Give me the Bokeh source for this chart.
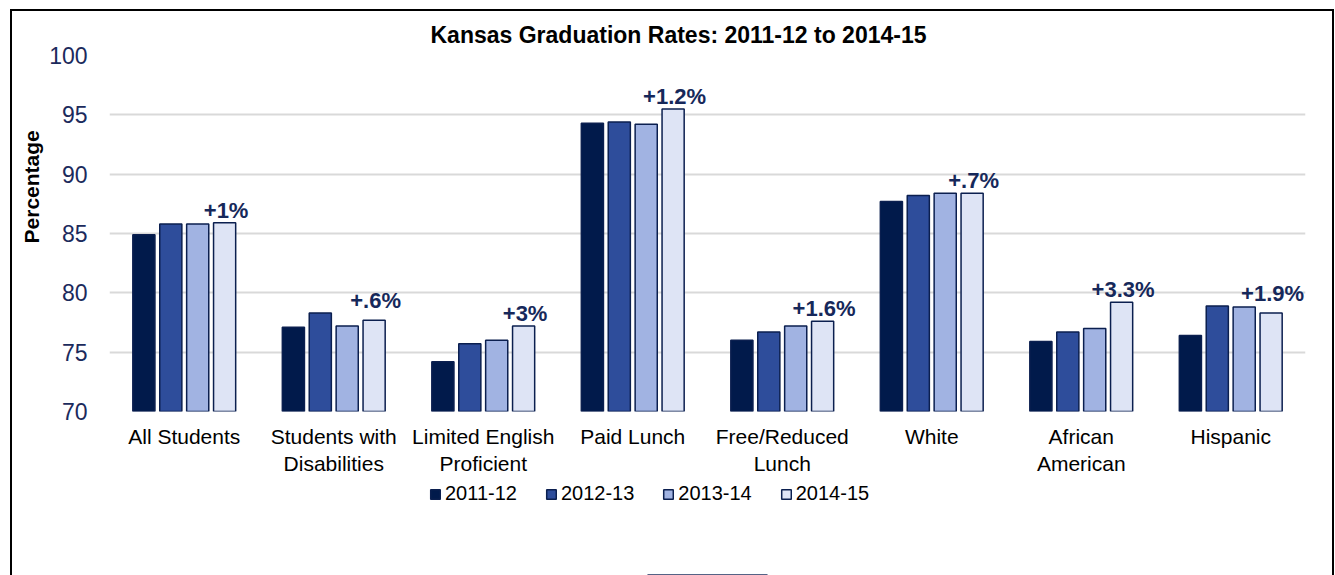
from bokeh.plotting import figure
from bokeh.layouts import column
from bokeh.models import ColumnDataSource, FactorRange, LabelSet, FixedTicker, Legend, LegendItem
from bokeh.core.properties import value
from bokeh.transform import dodge
from bokeh.embed import file_html
from bokeh.resources import INLINE

categories = ["All Students", "Students with\nDisabilities", "Limited English\nProficient",
              "Paid Lunch", "Free/Reduced\nLunch", "White", "African\nAmerican", "Hispanic"]
years = ["2011-12", "2012-13", "2013-14", "2014-15"]
y2011_12 = [84.9, 77.1, 74.2, 94.3, 76.0, 87.7, 75.9, 76.4]
y2012_13 = [85.8, 78.3, 75.7, 94.4, 76.7, 88.2, 76.7, 78.9]
y2013_14 = [85.8, 77.2, 76.0, 94.2, 77.2, 88.4, 77.0, 78.8]
y2014_15 = [85.9, 77.7, 77.2, 95.5, 77.6, 88.4, 79.2, 78.3]
change_labels = ["+1%", "+.6%", "+3%", "+1.2%", "+1.6%", "+.7%", "+3.3%", "+1.9%"]
y_ticks = [70, 75, 80, 85, 90, 95, 100]
title_text = "Kansas Graduation Rates: 2011-12 to 2014-15"
y_title = "Percentage"

colors = ["#011A4B", "#2E4D9B", "#A1B3E2", "#DEE4F5"]
outline = "#0B1F4F"
font = "Liberation Sans"

series = [y2011_12, y2012_13, y2013_14, y2014_15]
data = dict(cat=categories, label=change_labels)
for yr, vals in zip(years, series):
    data[yr] = vals
data["top"] = [max(v) for v in zip(*series)]
src = ColumnDataSource(data)

W = 1320
p = figure(x_range=FactorRange(*categories), y_range=(70, 100),
           width=W, height=468, output_backend="svg", toolbar_location=None,
           min_border_left=97, min_border_right=27, min_border_top=42, min_border_bottom=68)
p.outline_line_color = None
p.background_fill_color = "white"
p.border_fill_color = "white"

p.title.text = title_text
p.title.align = "left"
p.title.offset = 321
p.title.text_font = font
p.title.text_font_size = "23px"
p.title.text_font_style = "bold"
p.title.text_color = "black"
p.title.standoff = 16

offsets = [-0.27, -0.09, 0.09, 0.27]
for yr, off, col in zip(years, offsets, colors):
    p.vbar(x=dodge("cat", off, range=p.x_range), top=yr, bottom=70, width=0.148,
           source=src, fill_color=col, line_color=outline, line_width=1.5)

labels = LabelSet(x=dodge("cat", 0.28, range=p.x_range), y="top", text="label", source=src,
                  text_align="center", text_baseline="alphabetic", y_offset=5,
                  text_font=value(font), text_font_size=value("22px"), text_font_style="bold",
                  text_color="#16285A")
p.add_layout(labels)

p.xgrid.grid_line_color = None
p.ygrid.grid_line_color = "#D9D9D9"
p.ygrid.grid_line_width = 2
p.yaxis.ticker = FixedTicker(ticks=y_ticks)
p.yaxis.axis_line_color = None
p.yaxis.major_tick_line_color = None
p.yaxis.minor_tick_line_color = None
p.yaxis.major_tick_out = 0
p.yaxis.major_label_standoff = 22
p.yaxis.major_label_text_font = font
p.yaxis.major_label_text_font_size = "23px"
p.yaxis.major_label_text_color = "#1B2A5C"
p.yaxis.axis_label = "\u00a0" * 16 + y_title
p.yaxis.axis_label_text_font = font
p.yaxis.axis_label_text_font_size = "21px"
p.yaxis.axis_label_text_font_style = "bold"
p.yaxis.axis_label_text_color = "black"
p.yaxis.axis_label_standoff = 3

p.xaxis.axis_line_color = None
p.xaxis.major_tick_line_color = None
p.xaxis.minor_tick_line_color = None
p.xaxis.major_tick_out = 0
p.xaxis.major_label_standoff = 13
p.xaxis.major_label_text_font = font
p.xaxis.major_label_text_font_size = "21px"
p.xaxis.major_label_text_color = "black"

# legend panel as a separate small figure below the chart
pl = figure(width=W, height=96, x_range=(0, 1), y_range=(0, 1), output_backend="svg",
            toolbar_location=None, min_border=0, x_axis_type=None, y_axis_type=None)
pl.outline_line_color = None
pl.grid.grid_line_color = None
pl.border_fill_color = "white"
items = []
for yr, col in zip(years, colors):
    r = pl.vbar(x=[0.5], top=[-10], bottom=[-11], width=0.1, fill_color=col,
                line_color=outline, line_width=1.5)
    items.append(LegendItem(label=yr, renderers=[r]))
legend = Legend(items=items, orientation="horizontal", location=(320, 70))
legend.border_line_color = None
legend.background_fill_alpha = 0
legend.padding = 0
legend.margin = 0
legend.spacing = 28
legend.glyph_width = 12
legend.glyph_height = 12
legend.label_standoff = 4
legend.label_text_font = font
legend.label_text_font_size = "20px"
legend.label_text_color = "black"
pl.add_layout(legend)

layout = column(p, pl, spacing=0,
                styles={"margin-left": "10px", "margin-top": "9px",
                        "border-left": "2px solid black", "border-top": "2px solid black",
                        "border-right": "2px solid black"})

open("out.html", "w").write(file_html(layout, INLINE))
